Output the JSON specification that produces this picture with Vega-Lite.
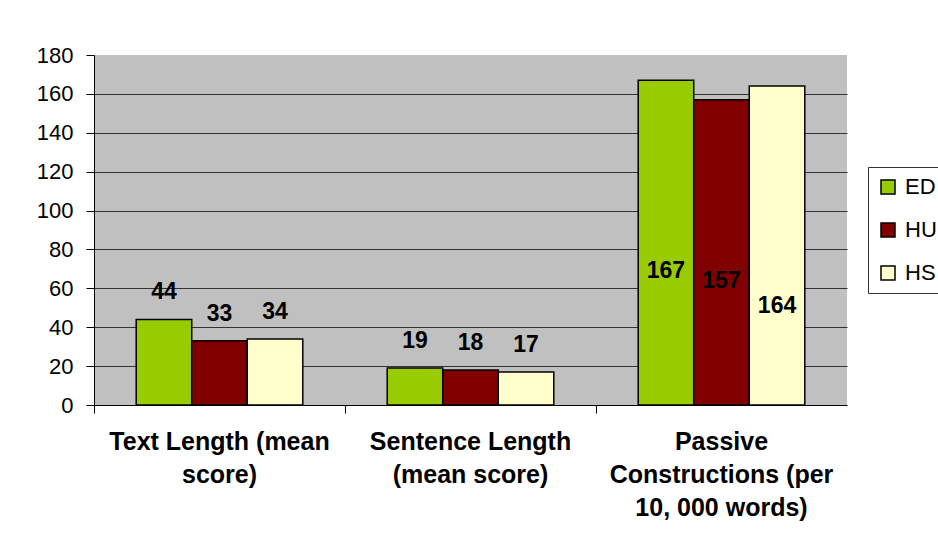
{
  "$schema": "https://vega.github.io/schema/vega-lite/v6.json",
  "width": 753,
  "height": 350,
  "autosize": {"type": "none"},
  "padding": {"left": 94, "top": 55, "right": 91, "bottom": 143},
  "background": "white",
  "config": {
    "font": "Liberation Sans",
    "view": {"fill": "#C0C0C0", "stroke": null}
  },
  "data": {
    "values": [
      {"category": "Text Length (mean|score)", "series": "ED", "value": 44},
      {"category": "Text Length (mean|score)", "series": "HU", "value": 33},
      {"category": "Text Length (mean|score)", "series": "HS", "value": 34},
      {"category": "Sentence Length|(mean score)", "series": "ED", "value": 19},
      {"category": "Sentence Length|(mean score)", "series": "HU", "value": 18},
      {"category": "Sentence Length|(mean score)", "series": "HS", "value": 17},
      {"category": "Passive|Constructions (per|10, 000 words)", "series": "ED", "value": 167},
      {"category": "Passive|Constructions (per|10, 000 words)", "series": "HU", "value": 157},
      {"category": "Passive|Constructions (per|10, 000 words)", "series": "HS", "value": 164}
    ]
  },
  "encoding": {
    "x": {
      "field": "category",
      "type": "nominal",
      "sort": ["Text Length (mean|score)", "Sentence Length|(mean score)", "Passive|Constructions (per|10, 000 words)"],
      "scale": {"paddingInner": 0, "paddingOuter": 0},
      "axis": {
        "title": null,
        "labelAngle": 0,
        "labelExpr": "split(datum.value, '|')",
        "labelFont": "Liberation Sans",
        "labelFontSize": 25,
        "labelFontWeight": "bold",
        "labelColor": "#000",
        "labelLineHeight": 33,
        "labelBaseline": "top",
        "labelPadding": 16,
        "labelLimit": 0,
        "labelOverlap": false,
        "bandPosition": 0,
        "tickColor": "#000",
        "tickSize": 8,
        "domainColor": "#000",
        "domainWidth": 1,
        "grid": false
      }
    },
    "xOffset": {
      "field": "series",
      "type": "nominal",
      "sort": ["ED", "HU", "HS"],
      "scale": {"paddingInner": 0, "paddingOuter": 0.76}
    }
  },
  "layer": [
    {
      "mark": {"type": "bar", "stroke": "#000", "strokeWidth": 1.5},
      "encoding": {
        "y": {
          "field": "value",
          "type": "quantitative",
          "scale": {"domain": [0, 180], "nice": false},
          "axis": {
            "title": null,
            "values": [0, 20, 40, 60, 80, 100, 120, 140, 160, 180],
            "tickCount": 20,
            "labelOverlap": false,
            "labelFont": "Liberation Sans",
            "labelFontSize": 22,
            "labelColor": "#000",
            "labelPadding": 13,
            "tickColor": "#000",
            "tickSize": 8,
            "domainColor": "#000",
            "grid": true,
            "gridColor": "#333",
            "gridWidth": 1,
            "gridOpacity": {"condition": {"test": "datum.value >= 180 || datum.value <= 0", "value": 0}, "value": 1}
          }
        },
        "color": {
          "field": "series",
          "type": "nominal",
          "sort": ["ED", "HU", "HS"],
          "scale": {"domain": ["ED", "HU", "HS"], "range": ["#99CC00", "#800000", "#FFFFCC"]},
          "legend": {
            "title": null,
            "orient": "none",
            "legendX": 774,
            "legendY": 112,
            "symbolType": "square",
            "symbolSize": 196,
            "symbolStrokeColor": "#000",
            "symbolStrokeWidth": 1.5,
            "labelFont": "Liberation Sans",
            "labelFontSize": 22,
            "labelColor": "#000",
            "labelOffset": 6,
            "rowPadding": 21,
            "padding": 9,
            "strokeColor": "#333",
            "fillColor": "white"
          }
        }
      }
    },
    {
      "transform": [{"filter": "datum.value < 100"}],
      "mark": {"type": "text", "font": "Liberation Sans", "fontSize": 23, "fontWeight": "bold", "color": "#000", "baseline": "middle", "dy": -27},
      "encoding": {
        "y": {"field": "value", "type": "quantitative"},
        "text": {"field": "value", "type": "quantitative"}
      }
    },
    {
      "transform": [{"filter": "datum.value >= 100 && datum.series == 'ED'"}],
      "mark": {"type": "text", "font": "Liberation Sans", "fontSize": 23, "fontWeight": "bold", "color": "#000", "baseline": "middle"},
      "encoding": {
        "y": {"datum": 69, "type": "quantitative"},
        "text": {"field": "value", "type": "quantitative"}
      }
    },
    {
      "transform": [{"filter": "datum.value >= 100 && datum.series == 'HU'"}],
      "mark": {"type": "text", "font": "Liberation Sans", "fontSize": 23, "fontWeight": "bold", "color": "#000", "baseline": "middle"},
      "encoding": {
        "y": {"datum": 64, "type": "quantitative"},
        "text": {"field": "value", "type": "quantitative"}
      }
    },
    {
      "transform": [{"filter": "datum.value >= 100 && datum.series == 'HS'"}],
      "mark": {"type": "text", "font": "Liberation Sans", "fontSize": 23, "fontWeight": "bold", "color": "#000", "baseline": "middle"},
      "encoding": {
        "y": {"datum": 51, "type": "quantitative"},
        "text": {"field": "value", "type": "quantitative"}
      }
    }
  ]
}
